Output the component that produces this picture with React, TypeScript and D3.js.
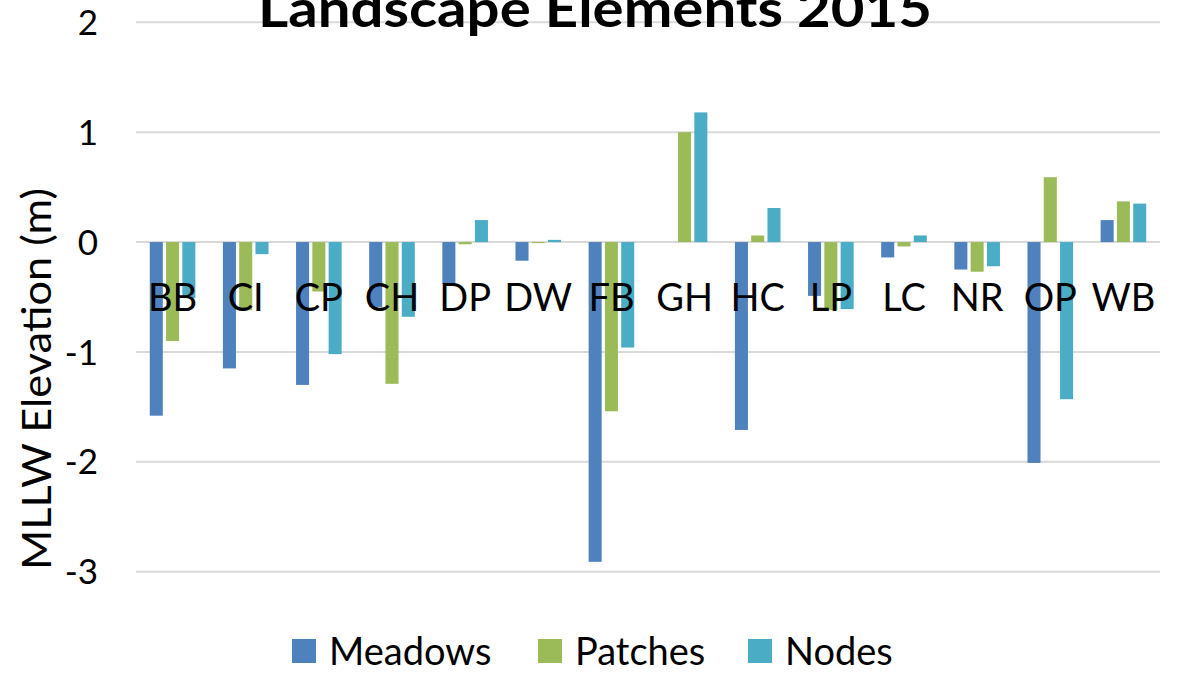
import React from "react";
import * as d3 from "d3";

const categories = ["BB", "CI", "CP", "CH", "DP", "DW", "FB", "GH", "HC", "LP", "LC", "NR", "OP", "WB"];
const seriesNames = ["Meadows", "Patches", "Nodes"];
const meadows = [-1.58, -1.15, -1.3, -0.59, -0.38, -0.17, -2.91, 0, -1.71, -0.49, -0.14, -0.25, -2.01, 0.2];
const patches = [-0.9, -0.62, -0.45, -1.29, -0.02, -0.01, -1.54, 1.0, 0.06, -0.62, -0.04, -0.27, 0.59, 0.37];
const nodes = [-0.51, -0.11, -1.02, -0.68, 0.2, 0.02, -0.96, 1.18, 0.31, -0.61, 0.06, -0.22, -1.43, 0.35];
const yTicks = [2, 1, 0, -1, -2, -3];
const colors = ["#4F81BD", "#9BBB59", "#4BACC6"];

const W = 1184;
const H = 674;
const FONT = "Lato, 'Open Sans', sans-serif";

export default function App() {
  const x = d3.scaleBand<string>().domain(categories).range([136, 1160]).paddingInner(0).paddingOuter(0);
  const y = d3.scaleLinear().domain([-3, 2]).range([571.7, 22.3]);
  const values = [meadows, patches, nodes];
  const bw = x.bandwidth();
  const inner = d3
    .scaleBand<string>()
    .domain(seriesNames)
    .range([bw / 2 - 22.8, bw / 2 + 22.8])
    .paddingInner(0.2);

  const legendX = [292, 538, 748];

  return (
    <svg
      width={W}
      height={H}
      style={{ position: "absolute", left: 0, top: 0, background: "#fff" }}
      fontFamily={FONT}
    >
      <rect x={0} y={0} width={W} height={H} fill="#fff" />
      {yTicks.map((t) => (
        <g key={t}>
          <line x1={136} x2={1160} y1={y(t)} y2={y(t)} stroke="#d9d9d9" strokeWidth={2} />
          <text x={98} y={y(t)} dy="0.36em" textAnchor="end" fontSize={35} fill="#000">
            {t}
          </text>
        </g>
      ))}
      {categories.map((c, i) => (
        <g key={c} transform={`translate(${x(c)},0)`}>
          {seriesNames.map((s, j) => {
            const v = values[j][i];
            const y0 = y(0);
            const yv = y(v);
            return (
              <rect
                key={s}
                x={inner(s)}
                width={inner.bandwidth()}
                y={Math.min(y0, yv)}
                height={Math.abs(yv - y0)}
                fill={colors[j]}
              />
            );
          })}
        </g>
      ))}
      {categories.map((c) => (
        <text key={c} x={(x(c) as number) + bw / 2} y={311} textAnchor="middle" fontSize={38} fill="#000">
          {c}
        </text>
      ))}
      <text
        x={595}
        y={27}
        textAnchor="middle"
        fontSize={52}
        fontWeight="bold"
        fill="#000"
        textLength={674}
        lengthAdjust="spacingAndGlyphs"
      >
        Landscape Elements 2015
      </text>
      <text
        transform="translate(51,379) rotate(-90)"
        textAnchor="middle"
        fontSize={40}
        fill="#000"
        textLength={382}
        lengthAdjust="spacingAndGlyphs"
      >
        MLLW Elevation (m)
      </text>
      {seriesNames.map((s, j) => (
        <g key={s}>
          <rect x={legendX[j]} y={639} width={24} height={24} fill={colors[j]} />
          <text x={legendX[j] + 37} y={651} dy="0.36em" fontSize={38} fill="#000">
            {s}
          </text>
        </g>
      ))}
    </svg>
  );
}
